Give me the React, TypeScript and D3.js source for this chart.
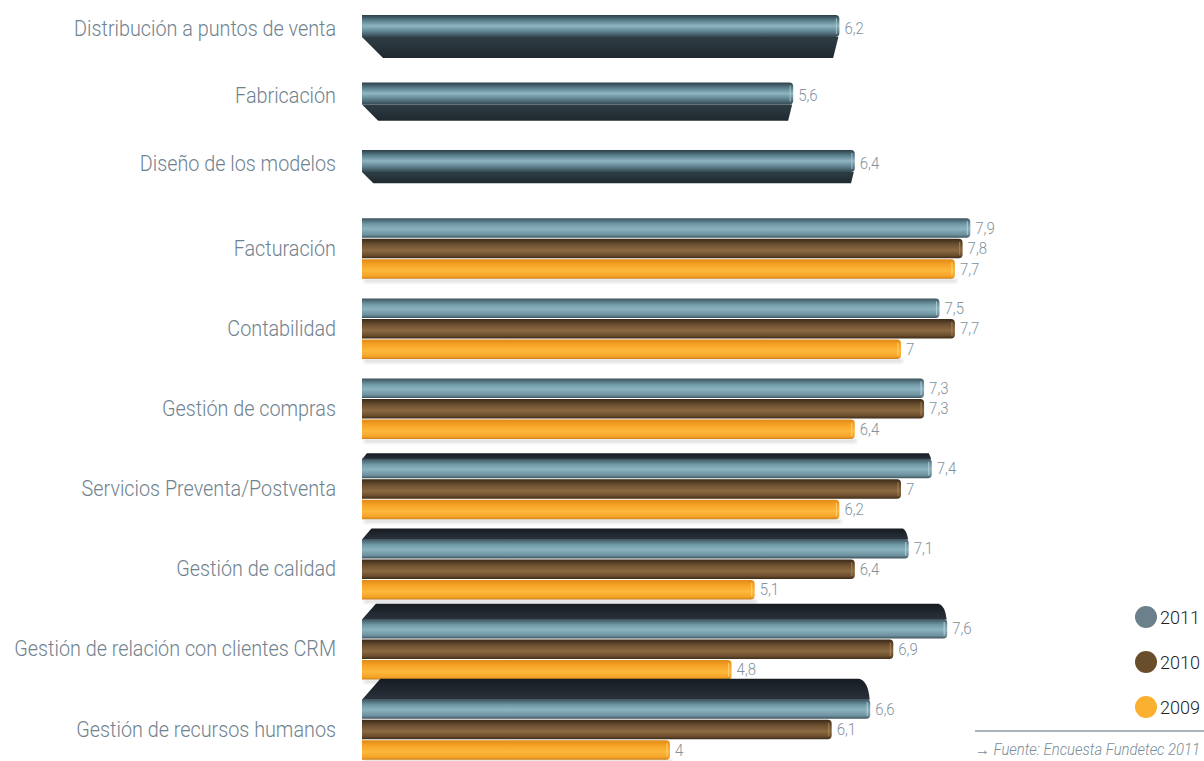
import React from "react";
import * as d3 from "d3";

// Categories, top to bottom
const categories = [
  "Distribución a puntos de venta",
  "Fabricación",
  "Diseño de los modelos",
  "Facturación",
  "Contabilidad",
  "Gestión de compras",
  "Servicios Preventa/Postventa",
  "Gestión de calidad",
  "Gestión de relación con clientes CRM",
  "Gestión de recursos humanos",
];

// Scores by year (null = not surveyed that year)
const values2011 = [6.2, 5.6, 6.4, 7.9, 7.5, 7.3, 7.4, 7.1, 7.6, 6.6];
const values2010: (number | null)[] = [null, null, null, 7.8, 7.7, 7.3, 7.0, 6.4, 6.9, 6.1];
const values2009: (number | null)[] = [null, null, null, 7.7, 7.0, 6.4, 6.2, 5.1, 4.8, 4.0];

const years = ["2011", "2010", "2009"];
const sourceText = "→ Fuente: Encuesta Fundetec 2011";

const W = 1204;
const H = 761;
const FONT = "Roboto, 'Open Sans', sans-serif";

const legendColors: Record<string, string> = {
  "2011": "#6b808b",
  "2010": "#6a4d2a",
  "2009": "#fbb02f",
};

const fmt = (v: number) => String(v).replace(".", ",");

export default function App() {
  const x = d3.scaleLinear().domain([0, 10]).range([362, 1132]);

  const singles = categories.filter((_, i) => values2010[i] == null);
  const grouped = categories.filter((_, i) => values2010[i] != null);
  const ySingle = d3.scalePoint<string>().domain(singles).range([28, 163]);
  const yGroup = d3.scalePoint<string>().domain(grouped).range([248, 729]);

  const barH = 19.5;
  const pitch = 20.5;
  const x0 = x(0);

  // rounded right-end bar face
  const facePath = (xe: number, top: number, h: number, r = 4) => {
    const p = d3.path();
    p.moveTo(x0, top);
    p.lineTo(xe - r, top);
    p.quadraticCurveTo(xe, top, xe, top + r);
    p.lineTo(xe, top + h - r);
    p.quadraticCurveTo(xe, top + h, xe - r, top + h);
    p.lineTo(x0, top + h);
    p.closePath();
    return p.toString();
  };

  const valueLabel = (key: string, xe: number, y: number, v: number) => (
    <text
      key={key}
      transform={`translate(${xe + 5},${y + 5.5}) scale(0.88,1)`}
      fontFamily={FONT}
      fontWeight={300}
      fontSize={17}
      fill="#7f929d"
    >
      {fmt(v)}
    </text>
  );

  const marks: React.ReactNode[] = [];
  const labels: React.ReactNode[] = [];

  categories.forEach((cat, i) => {
    const isSingle = values2010[i] == null;
    const cy = isSingle ? (ySingle(cat) as number) : (yGroup(cat) as number);

    labels.push(
      <text
        key={"c" + i}
        transform={`translate(336,${cy + 7.5}) scale(0.9,1)`}
        textAnchor="end"
        fontFamily={FONT}
        fontWeight={300}
        fontSize={22}
        fill="#6f828e"
      >
        {cat}
      </text>
    );

    if (isSingle) {
      const v = values2011[i];
      const xe = x(v);
      const h = 22;
      const top = cy - 13;
      const bottom = top + h;
      const d = (320 - cy) * 0.072;
      marks.push(
        <g key={"s" + i}>
          <polygon
            points={`${x0},${bottom} ${xe - 1},${bottom} ${xe - 1 - d * 0.25},${bottom + d} ${x0 + d},${bottom + d}`}
            fill="url(#gUnder)"
          />
          <path d={facePath(xe, top, h)} fill="url(#gSingle)" />
          <line x1={xe - 3} x2={xe - 3} y1={top + 3} y2={bottom - 3} stroke="#b9d3db" strokeOpacity={0.6} strokeWidth={1.2} />
          {valueLabel("v" + i, xe, cy, v)}
        </g>
      );
    } else {
      const series = [values2011[i], values2010[i] as number, values2009[i] as number];
      const groupTop = cy + 1 - (pitch * 3) / 2;
      const d = Math.max(0, (cy - 400) * 0.062);
      const xe0 = x(series[0]);
      // soft shadow under the group
      marks.push(
        <rect
          key={"sh" + i}
          x={x0 + 2}
          y={groupTop + pitch * 3 - 1}
          width={x(series[2]) - x0}
          height={4}
          fill="#000"
          opacity={0.12}
          filter="url(#blur)"
        />
      );
      if (d > 1) {
        marks.push(
          <path
            key={"lid" + i}
            d={`M${x0},${groupTop + 0.5} L${x0 + d * 0.9},${groupTop - d} L${xe0 - d * 0.55},${groupTop - d} Q${xe0 - 2},${groupTop - d + 2} ${xe0 - 0.5},${groupTop + 0.5} Z`}
            fill="url(#gLid)"
          />
        );
      }
      series.forEach((v, s) => {
        const xe = x(v);
        const top = groupTop + s * pitch;
        const mid = top + barH / 2;
        marks.push(
          <g key={`b${i}-${s}`}>
            <path d={facePath(xe, top, barH)} fill={`url(#g${years[s]})`} />
            <line
              x1={xe - 3}
              x2={xe - 3}
              y1={top + 3}
              y2={top + barH - 3}
              stroke={s === 0 ? "#c3dbe2" : s === 1 ? "#b08a5a" : "#ffd98a"}
              strokeOpacity={0.7}
              strokeWidth={1.2}
            />
            {valueLabel(`v${i}-${s}`, xe, mid, v)}
          </g>
        );
      });
    }
  });

  const legendY = d3.scalePoint<string>().domain(years).range([617, 707]);

  return (
    <div style={{ position: "absolute", left: 0, top: 0 }}>
      <svg width={W} height={H} style={{ display: "block", background: "#fff" }}>
        <defs>
          <linearGradient id="gSingle" x1="0" y1="0" x2="0" y2="1">
            <stop offset="0" stopColor="#2c3e48" />
            <stop offset="0.25" stopColor="#5a808d" />
            <stop offset="0.5" stopColor="#8fb5c1" />
            <stop offset="0.75" stopColor="#5e828f" />
            <stop offset="1" stopColor="#34474f" />
          </linearGradient>
          <linearGradient id="gUnder" x1="0" y1="0" x2="0" y2="1">
            <stop offset="0" stopColor="#2e3d45" />
            <stop offset="1" stopColor="#1f292f" />
          </linearGradient>
          <linearGradient id="gLid" x1="0" y1="0" x2="0" y2="1">
            <stop offset="0" stopColor="#171b22" />
            <stop offset="1" stopColor="#2a323b" />
          </linearGradient>
          <linearGradient id="g2011" x1="0" y1="0" x2="0" y2="1">
            <stop offset="0" stopColor="#3c535d" />
            <stop offset="0.3" stopColor="#7099a7" />
            <stop offset="0.55" stopColor="#8cb2be" />
            <stop offset="0.85" stopColor="#6c909d" />
            <stop offset="1" stopColor="#3e535c" />
          </linearGradient>
          <linearGradient id="g2010" x1="0" y1="0" x2="0" y2="1">
            <stop offset="0" stopColor="#3a2a18" />
            <stop offset="0.3" stopColor="#6e5132" />
            <stop offset="0.6" stopColor="#8b6a42" />
            <stop offset="0.85" stopColor="#6b4e2e" />
            <stop offset="1" stopColor="#3d2c1a" />
          </linearGradient>
          <linearGradient id="g2009" x1="0" y1="0" x2="0" y2="1">
            <stop offset="0" stopColor="#e08a16" />
            <stop offset="0.3" stopColor="#f7a527" />
            <stop offset="0.6" stopColor="#fcb83c" />
            <stop offset="0.88" stopColor="#f5a226" />
            <stop offset="1" stopColor="#c9801c" />
          </linearGradient>
          <filter id="blur" x="-5%" y="-200%" width="110%" height="500%">
            <feGaussianBlur stdDeviation="1.5" />
          </filter>
        </defs>

        {marks}
        {labels}

        {/* legend */}
        {years.map((yr) => {
          const ly = legendY(yr) as number;
          return (
            <g key={yr}>
              <circle cx={1146} cy={ly} r={11} fill={legendColors[yr]} />
              <text
                transform={`translate(1160,${ly + 7}) scale(0.95,1)`}
                fontFamily={FONT}
                fontWeight={300}
                fontSize={19}
                fill="#222"
              >
                {yr}
              </text>
            </g>
          );
        })}

        <line x1={975} x2={W} y1={731} y2={731} stroke="#8d9ca5" strokeWidth={1.3} />
        <text
          transform={`translate(975,755) scale(0.93,1)`}
          fontFamily={FONT}
          fontWeight={300}
          fontStyle="italic"
          fontSize={16}
          fill="#7a8d98"
        >
          {sourceText}
        </text>
      </svg>
    </div>
  );
}
